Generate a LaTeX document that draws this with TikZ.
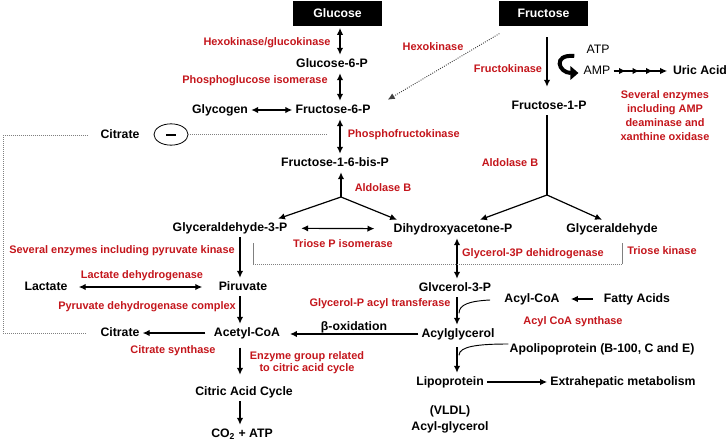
\documentclass[tikz,border=0pt]{standalone}
\usepackage{fontspec}
\setmainfont{Liberation Sans}
\usetikzlibrary{arrows.meta,calc,shapes.geometric,decorations.markings}
\definecolor{enzred}{RGB}{196,22,28}
\tikzset{
  met/.style={font=\bfseries\fontsize{9.2}{11}\selectfont,inner sep=2pt,text height=7pt,text depth=2pt},
  note/.style={font=\fontsize{9.2}{11}\selectfont,inner sep=2pt,text height=7pt,text depth=2pt},
  enz/.style={font=\bfseries\fontsize{8.2}{10.5}\selectfont,text=enzred,inner sep=1pt},
  sugar/.style={fill=black,text=white,font=\bfseries\fontsize{9.2}{11}\selectfont,minimum width=66.75pt,minimum height=18.75pt,inner sep=0pt},
  fwd/.style={-{Latex[length=5.2pt,width=4.8pt]}},
  twoway/.style={{Latex[length=5.2pt,width=4.8pt]}-{Latex[length=5.2pt,width=4.8pt]}},
  inhib/.style={densely dotted,line width=0.5pt,gray},
  relay/.style={fwd,postaction=decorate,decoration={markings,
    mark=at position 0.22 with {\arrow{Latex[length=5.2pt,width=4.8pt]}},
    mark=at position 0.46 with {\arrow{Latex[length=5.2pt,width=4.8pt]}},
    mark=at position 0.70 with {\arrow{Latex[length=5.2pt,width=4.8pt]}}}}
}
\begin{document}
\begin{tikzpicture}[x=0.75pt,y=-0.75pt,line width=0.9pt]
\useasboundingbox (0,0) rectangle (727,442);
\node[sugar] at (337.5,13.5) (glc) {Glucose};
\node[sugar] at (543.5,13.5) (fru) {Fructose};
\node[met] at (332,64) (g6p) {Glucose-6-P};
\node[met] at (333,110) (f6p) {Fructose-6-P};
\node[met] at (220,110) (gly) {Glycogen};
\node[met] at (120,135) (cit1) {Citrate};
\node[ellipse,draw,line width=0.6pt,minimum width=25.5pt,minimum height=16pt,inner sep=0pt] at (171,134.5) (inh) {\rule{7.5pt}{1.5pt}};
\node[met] at (335,163) (f16) {Fructose-1-6-bis-P};
\node[met] at (230,228) (g3p) {Glyceraldehyde-3-P};
\node[met] at (453,229) (dhap) {Dihydroxyacetone-P};
\node[met] at (612,229) (gald) {Glyceraldehyde};
\node[met] at (549,106) (f1p) {Fructose-1-P};
\node[note] at (598,50) (atp) {ATP};
\node[note] at (597,71) (amp) {AMP};
\node[met] at (700,71) (uric) {Uric Acid};
\node[met] at (455,288) (g3pol) {Glvcerol-3-P};
\node[met] at (532,299) (acoa) {Acyl-CoA};
\node[met] at (637,299) (fa) {Fatty Acids};
\node[met] at (458,334) (acylg) {Acylglycerol};
\node[met] at (602,349) (apo) {Apolipoprotein (B-100, C and E)};
\node[met] at (450,382) (lipo) {Lipoprotein};
\node[met] at (623,382) (extra) {Extrahepatic metabolism};
\node[met] at (450,411) (vldl) {(VLDL)};
\node[met] at (450,427) (acgl) {Acyl-glycerol};
\node[met] at (243,287) (pyr) {Piruvate};
\node[met] at (46,287) (lac) {Lactate};
\node[met] at (247,333) (acet) {Acetyl-CoA};
\node[met] at (120,333) (cit2) {Citrate};
\node[met] at (244,392) (tca) {Citric Acid Cycle};
\node[met] at (242,434) (co2) {CO\textsubscript{2} + ATP};
\node[met] at (354,327) (beta) {β-oxidation};
\node[enz] at (267,43) (hgk) {Hexokinase/glucokinase};
\node[enz] at (255,81) (pgi) {Phosphoglucose isomerase};
\node[enz,anchor=west] at (346,135) (pfk) {Phosphofructokinase};
\node[enz] at (383,188) (aldl) {Aldolase B};
\node[enz] at (343,244) (tpi) {Triose P isomerase};
\node[enz] at (122,251) (pk) {Several enzymes including pyruvate kinase};
\node[enz] at (142,276) (ldh) {Lactate dehydrogenase};
\node[enz] at (147,307) (pdh) {Pyruvate dehydrogenase complex};
\node[enz] at (173,351) (cs) {Citrate synthase};
\node[enz,align=center] at (307,363) (tcae) {Enzyme group related\\[-1.5pt]to citric acid cycle};
\node[enz] at (433,47) (hk) {Hexokinase};
\node[enz] at (508,69) (fk) {Fructokinase};
\node[enz] at (510,163) (aldr) {Aldolase B};
\node[enz,align=center] at (665,116) (xo) {Several enzymes\\including AMP\\deaminase and\\xanthine oxidase};
\node[enz] at (533,254) (g3pdh) {Glycerol-3P dehidrogenase};
\node[enz] at (662,251) (tk) {Triose kinase};
\node[enz] at (380,304) (gpat) {Glycerol-P acyl transferase};
\node[enz] at (573,322) (acs) {Acyl CoA synthase};
\coordinate (colL) at (340,0);
\coordinate (colM) at (457,0);
\coordinate (colR) at (547,0);
\coordinate (colP) at (240,0);
\coordinate (splitL) at (341,197);
\coordinate (splitR) at (547,195);
\coordinate (loopT) at (3,134);
\coordinate (loopB) at (3,333);
\coordinate (tkL) at (253,264);
\coordinate (tkR) at (622,264);
\draw[twoway,shorten <=1pt] (glc.south -| colL) -- (g6p.north -| colL);
\draw[twoway] (g6p.south -| colL) -- (f6p.north -| colL);
\draw[twoway] (gly) -- (f6p);
\draw[twoway] (f6p.south -| colL) -- (f16.north -| colL);
\draw[fwd] (splitL) -- (f16.south -| splitL);
\draw[fwd] (splitL) -- ($(g3p.north)+(48,0)$);
\draw[fwd] (splitL) -- ($(dhap.north)+(-56,0)$);
\draw[twoway,shorten <=8pt,shorten >=12pt] (g3p) -- (dhap);
\draw[fwd,densely dotted,line width=0.7pt,black!75] ($(fru.south west)+(1,7)$) -- ($(f6p.north east)+(14,-1)$);
\draw[fwd,shorten <=8pt,shorten >=7.5pt] (fru.south -| colR) -- (f1p.north -| colR);
\draw (f1p.south -| colR) -- (splitR);
\draw[fwd] (splitR) -- ($(dhap.north)+(27,0)$);
\draw[fwd] (splitR) -- ($(gald.north)+(-10,0)$);
\draw[line width=3pt,-{Triangle[length=6pt,width=10pt]}] ($(atp.west)+(-9,6)$) .. controls +(-22,-2) and +(-20,0) .. ($(amp.west)+(-2,2)$);
\draw[relay,shorten >=2pt] (amp) -- (uric);
\draw[fwd] (g3p.south -| colP) -- (pyr.north -| colP);
\draw[twoway,shorten <=6pt,shorten >=10pt] (lac) -- (pyr);
\draw[fwd] (pyr.south -| colP) -- (acet.north -| colP);
\draw[fwd,shorten <=4pt] (acet) -- (cit2);
\draw[fwd,shorten <=4pt,shorten >=6pt] (acet.south -| colP) -- (tca.north -| colP);
\draw[fwd] (tca.south -| colP) -- (co2.north -| colP);
\draw[twoway] (dhap.south -| colM) -- (g3pol.north -| colM);
\draw[fwd] (g3pol.south -| colM) -- (acylg.north -| colM);
\draw[line width=0.7pt] ($(acoa.west)+(-11,1)$) .. controls +(-20,1) and +(0,-9) .. ($(g3pol.south -| colM)+(2,16)$);
\draw[fwd,shorten <=6pt,shorten >=6pt] (fa) -- (acoa);
\draw[fwd,shorten >=5pt] (acylg.west) -- (acet.east |- acylg.west);
\draw[fwd,shorten <=3pt] (acylg.south -| colM) -- (lipo.north -| colM);
\draw[line width=0.7pt] ($(apo.west)+(2,-5)$) .. controls +(-30,0) and +(0,-9) .. ($(acylg.south -| colM)+(2,12)$);
\draw[fwd] (lipo) -- (extra);
\draw[inhib] (inh.east) -- ($(inh.east -| colL)+(-13,0)$);
\draw[inhib,shorten <=9pt,shorten >=7pt] (cit2.west) -- (cit2.west -| loopB) -- (cit1.west -| loopT) -- (cit1.west);
\draw[gray,line width=0.5pt] ($(tkL)+(0,-21)$) -- (tkL);
\draw[inhib] (tkL) -- (tkR);
\draw[gray,line width=0.5pt] (tkR) -- ($(tkR)+(0,-21)$);
\end{tikzpicture}
\end{document}
